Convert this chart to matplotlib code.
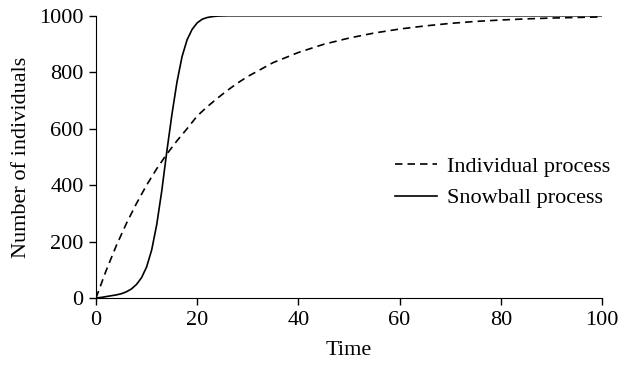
import matplotlib.pyplot as plt

# values
t_ind = [0, 2, 4, 6, 8, 10, 12, 14, 16, 18, 20, 22, 24, 26, 28, 30, 35, 40, 45, 50,
         55, 60, 65, 70, 75, 80, 85, 90, 95, 100]
individual = [0, 97, 185, 264, 335, 400, 458, 510, 557, 600, 645, 678, 708, 736, 762, 785, 834, 870,
              899, 921, 939, 953, 964, 973, 980, 985, 989, 992, 994, 996]

t_snow = [0, 1, 2, 3, 4, 5, 6, 7, 8, 9, 10, 11, 12, 13, 14, 15, 16, 17, 18, 19, 20, 21, 22, 23,
          24, 26, 30, 100]
snowball = [0, 2, 5, 8, 11, 15, 22, 32, 48, 72, 110, 170, 260, 380, 520, 650, 765, 855, 915, 952,
            975, 988, 994, 997, 999, 1000, 1000, 1000]

plt.rcParams['font.family'] = 'Liberation Serif'

fig = plt.figure(figsize=(6.21, 3.67), dpi=100)
ax = fig.add_axes([0.1546, 0.188, 0.8148, 0.769])

ax.plot(t_ind, individual, color='black', lw=1.2, dashes=(4.5, 3), label='Individual process')
ax.plot(t_snow, snowball, color='black', lw=1.2, label='Snowball process')

ax.set_xlim(0, 100)
ax.set_ylim(0, 1000)
ax.set_xticks(range(0, 101, 20))
ax.set_yticks(range(0, 1001, 200))
ax.spines['top'].set_visible(False)
ax.spines['right'].set_visible(False)
ax.tick_params(labelsize=16, length=5, width=1, direction='out', pad=4)
ax.set_xlabel('Time', fontsize=16, labelpad=8)
ax.set_ylabel('Number of individuals', fontsize=16, labelpad=6)

ax.legend(loc='center left', bbox_to_anchor=(0.59, 0.41), frameon=False, fontsize=16,
          handlelength=1.9, handletextpad=0.45, borderpad=0, borderaxespad=0, labelspacing=0.5)

fig.savefig('out.png', dpi=100)
